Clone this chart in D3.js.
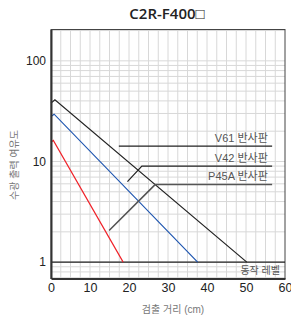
<!DOCTYPE html>
<html>
<head>
<meta charset="utf-8">
<script src="https://cdn.jsdelivr.net/npm/d3@7"></script>
<style>
  body { margin: 0; background: #fff; }
  text { font-family: "Liberation Sans", Arial, "Noto Sans CJK KR", sans-serif; }
</style>
</head>
<body>
<svg id="chart" width="291" height="320"></svg>
<script>
// data
const titleText = "C2R-F400\u25A1";
const xTicks = [0, 10, 20, 30, 40, 50, 60];
const yTicks = [1, 10, 100];

const v61Dist = [0, 1, 50.2];
const v61Gain = [38, 41, 1];
const v42Dist = [0, 0.8, 37.6];
const v42Gain = [28, 29.5, 1];
const p45Dist = [0, 0.6, 18.5];
const p45Gain = [15.5, 16.2, 1];

const seriesNames = ["V61 반사판", "V42 반사판", "P45A 반사판"];
// leader lines in data units
const v61Leader = [[17.4, 14.2], [56.7, 14.2]];
const v42Leader = [[19.6, 6.3], [23.3, 9.0], [56.7, 9.0]];
const p45Leader = [[14.9, 2.06], [26.7, 5.9], [56.7, 5.9]];
const levelValue = 1;
const levelText = "동작 레벨";

const svg = d3.select("#chart");
const pLeft = 51, pRight = 285, pTop = 29.5, pBottom = 278.5;

const x = d3.scaleLinear().domain([0, 60]).range([pLeft, pRight]);
const y = d3.scaleLog().domain([0.688, 204.8]).range([pBottom, pTop]);

// grid
const vGrid = d3.range(2.5, 60, 2.5);
svg.append("g").selectAll("line")
    .data(vGrid)
    .join("line")
    .attr("x1", d => x(d)).attr("x2", d => x(d))
    .attr("y1", pTop).attr("y2", pBottom)
    .attr("stroke", "#d8d8d8")
    .attr("stroke-width", 1);

const hGrid = [];
[0.1, 1, 10, 100].forEach(dec => {
    for (let k = 1; k <= 9; k++) {
        const v = dec * k;
        if (v > 0.688 && v < 204.8) hGrid.push(v);
    }
});
svg.append("g").selectAll("line")
    .data(hGrid)
    .join("line")
    .attr("x1", pLeft).attr("x2", pRight)
    .attr("y1", d => y(d)).attr("y2", d => y(d))
    .attr("stroke", "#d8d8d8")
    .attr("stroke-width", 1);

// frame
svg.append("rect")
    .attr("x", pLeft).attr("y", pTop)
    .attr("width", pRight - pLeft).attr("height", pBottom - pTop)
    .attr("fill", "none")
    .attr("stroke", "#444")
    .attr("stroke-width", 1);

// operating level
svg.append("line")
    .attr("x1", pLeft).attr("x2", pRight)
    .attr("y1", y(levelValue)).attr("y2", y(levelValue))
    .attr("stroke", "#222")
    .attr("stroke-width", 1.2);

svg.append("text")
    .text(levelText)
    .attr("x", pRight - 5)
    .attr("y", y(levelValue) + 12)
    .attr("text-anchor", "end")
    .style("font-size", "10px")
    .attr("fill", "#555");

// curves
const line = d3.line().x(d => x(d[0])).y(d => y(d[1]));
const curves = [
    { d: d3.zip(v61Dist, v61Gain), c: "#222" },
    { d: d3.zip(v42Dist, v42Gain), c: "#1f56b0" },
    { d: d3.zip(p45Dist, p45Gain), c: "#f0232a" }
];
curves.forEach(s => {
    svg.append("path")
        .attr("d", line(s.d))
        .attr("fill", "none")
        .attr("stroke", s.c)
        .attr("stroke-width", 1.2);
});

// leaders and labels
const leaders = [
    { pts: v61Leader, c: "#222", w: 1.2 },
    { pts: v42Leader, c: "#222", w: 1.2 },
    { pts: p45Leader, c: "#555", w: 1.6 }
];
leaders.forEach((l, i) => {
    svg.append("path")
        .attr("d", line(l.pts))
        .attr("fill", "none")
        .attr("stroke", l.c)
        .attr("stroke-width", l.w);
    const last = l.pts[l.pts.length - 1];
    svg.append("text")
        .text(seriesNames[i])
        .attr("x", x(55.6))
        .attr("y", y(last[1]) - 4.5)
        .attr("text-anchor", "end")
        .style("font-size", "11px")
        .attr("fill", "#555");
});

// axes
const xAxis = svg.append("g")
    .attr("transform", "translate(0," + pBottom + ")")
    .call(d3.axisBottom(x).tickValues(xTicks).tickSize(0).tickPadding(5));
xAxis.select(".domain").attr("stroke", "#333").attr("stroke-width", 2);
xAxis.selectAll("text").style("font-size", "12.5px").attr("fill", "#222");

const yAxis = svg.append("g")
    .attr("transform", "translate(" + pLeft + ",0)")
    .call(d3.axisLeft(y).tickValues(yTicks).tickFormat(d3.format("d")).tickSize(0).tickPadding(5));
yAxis.select(".domain").attr("stroke", "#333").attr("stroke-width", 2);
yAxis.selectAll("text").style("font-size", "12px").attr("fill", "#222");

// titles
svg.append("text")
    .text(titleText)
    .attr("x", 167)
    .attr("y", 19)
    .attr("text-anchor", "middle")
    .style("font-size", "15px")
    .style("font-weight", "600")
    .style("font-family", "'Open Sans', 'Liberation Sans', sans-serif")
    .attr("fill", "#222");

svg.append("text")
    .text("검출 거리 (cm)")
    .attr("x", 173)
    .attr("y", 313)
    .attr("text-anchor", "middle")
    .style("font-size", "10px")
    .attr("fill", "#777");

svg.append("text")
    .text("수광 출력 여유도")
    .attr("text-anchor", "middle")
    .style("font-size", "10px")
    .attr("fill", "#777")
    .attr("transform", "translate(18,165) rotate(-90)");
</script>
</body>
</html>
